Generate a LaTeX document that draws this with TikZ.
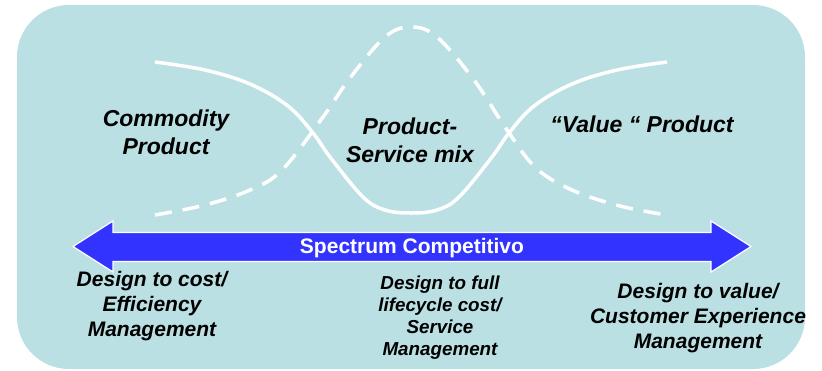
\documentclass[tikz,border=0pt]{standalone}
\usepackage{fontspec}
\setmainfont{Liberation Sans}
\definecolor{bgcyan}{HTML}{BBE0E3}
\definecolor{arrowblue}{HTML}{3333FF}
\begin{document}
\begin{tikzpicture}[x=1pt,y=-1pt,
  curve/.style={white,line width=3.5pt},
  dashcurve/.style={white,line width=3.5pt,dash pattern=on 17pt off 11pt},
  bigtxt/.style={inner sep=0pt,align=center,font=\fontsize{23}{27.7}\selectfont\bfseries\itshape},
  smalltxt/.style={inner sep=0pt,align=center,font=\fontsize{21}{25}\selectfont\bfseries\itshape},
  midtxt/.style={inner sep=0pt,align=center,font=\fontsize{18.8}{22}\selectfont\bfseries\itshape}]
\useasboundingbox (0,0) rectangle (822,370);
\fill[white] (0,0) rectangle (822,370);
\fill[bgcyan,rounded corners=52pt] (17,5) rectangle (805,369);
% curves
\draw[curve] plot[smooth,tension=0.6] coordinates {(155,62) (205,70) (250,84) (288,106) (313,133) (330,157) (363,197) (385,210) (411,213) (437,210) (459,197) (492,157) (509,133) (534,106) (572,84) (617,70) (667,62)};
\draw[dashcurve] plot[smooth,tension=0.6] coordinates {(155,215) (205,205) (250,190) (282,170) (323,117) (350,78) (385,37) (411,27) (437,37) (474,80) (507,130) (536,168) (572,190) (620,206) (667,215)};
% arrow
\draw[fill=arrowblue,draw=white,line width=1.2pt,line join=miter]
  (73,246.5) -- (113,221) -- (113,232.5) -- (711,232.5) -- (711,221) -- (751,246.5)
  -- (711,272) -- (711,261.5) -- (113,261.5) -- (113,272) -- cycle;
\node[inner sep=0pt,anchor=base,text=white,font=\fontsize{21}{25}\selectfont\bfseries] (spec) at (412,253) {Spectrum Competitivo};
% labels (base anchor = baseline of last line)
\node[bigtxt,anchor=base] (comm) at (166,154.5) {Commodity\\Product};
\node[bigtxt,anchor=base] (psm) at (410,162) {Product-\\Service mix};
\node[bigtxt,anchor=base] (val) at (642,132) {“Value “ Product};
\node[smalltxt,anchor=base] (cost) at (152,336.5) {Design to cost/\\Efficiency\\Management};
\node[midtxt,anchor=base] (full) at (440,355) {Design to full\\lifecycle cost/\\Service\\Management};
\node[smalltxt,anchor=base] (value) at (698,348) {Design to value/\\Customer Experience\\Management};
\end{tikzpicture}
\end{document}
